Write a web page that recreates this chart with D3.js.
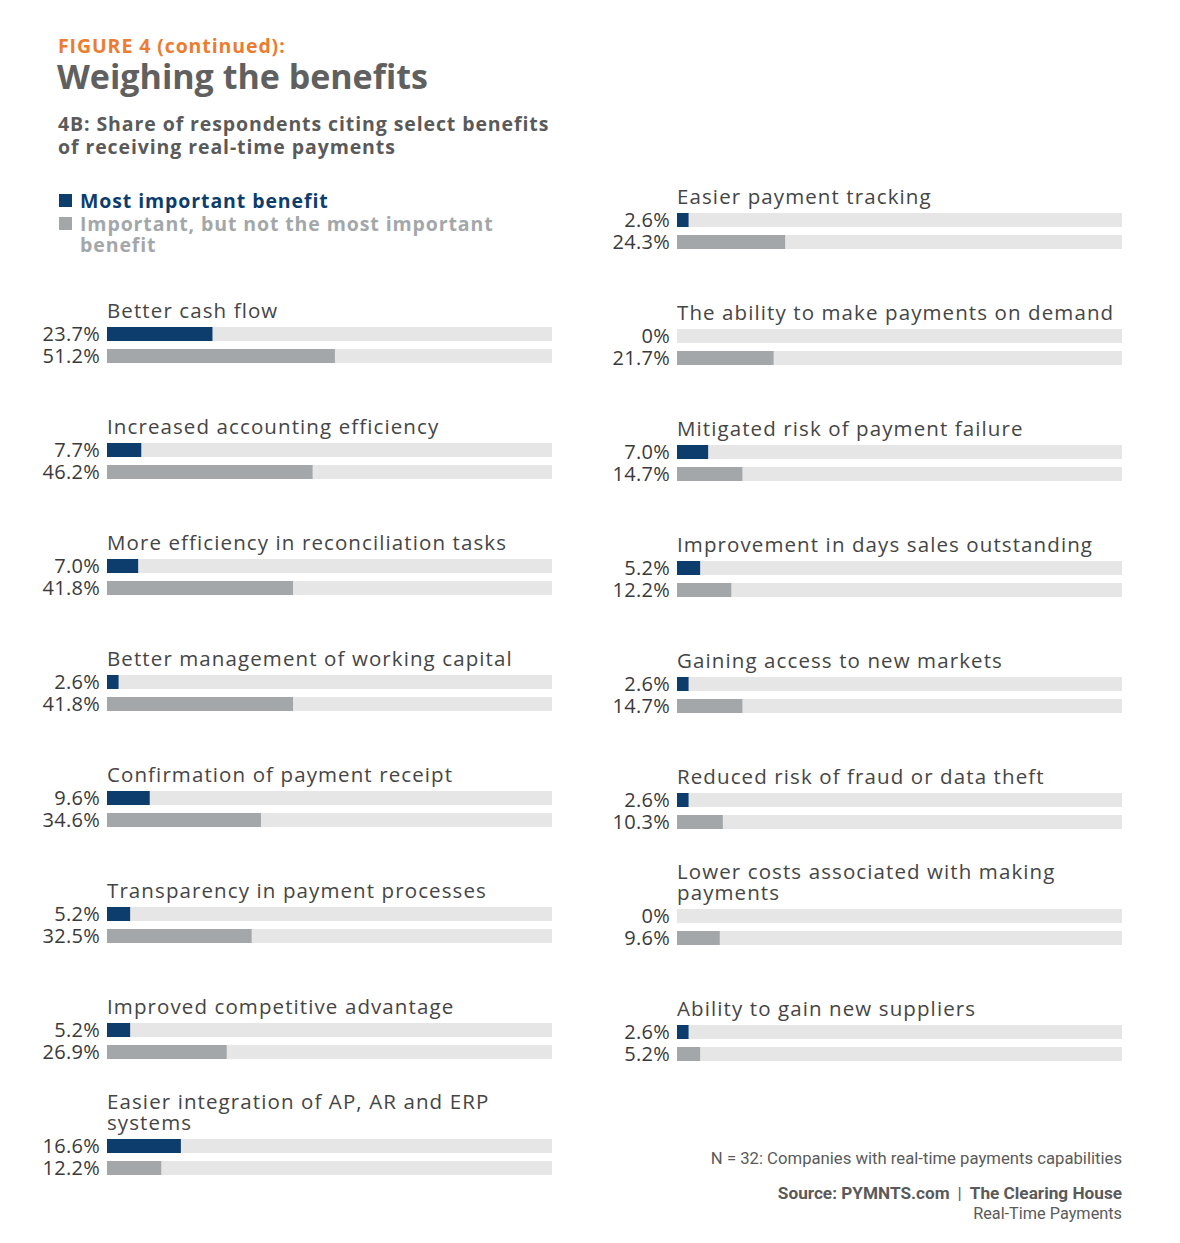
<!DOCTYPE html>
<html>
<head>
<meta charset="utf-8">
<script src="https://cdn.jsdelivr.net/npm/d3@7"></script>
<style>
  body { margin: 0; background: #fff; }
  svg { display: block; }
</style>
</head>
<body>
<div id="root"></div>
<script>
// left column
const leftCategories = [
  'Better cash flow',
  'Increased accounting efficiency',
  'More efficiency in reconciliation tasks',
  'Better management of working capital',
  'Confirmation of payment receipt',
  'Transparency in payment processes',
  'Improved competitive advantage',
  'Easier integration of AP, AR and ERP systems'
]
const leftMost = [23.7, 7.7, 7.0, 2.6, 9.6, 5.2, 5.2, 16.6]
const leftImportant = [51.2, 46.2, 41.8, 41.8, 34.6, 32.5, 26.9, 12.2]

// right column
const rightCategories = [
  'Easier payment tracking',
  'The ability to make payments on demand',
  'Mitigated risk of payment failure',
  'Improvement in days sales outstanding',
  'Gaining access to new markets',
  'Reduced risk of fraud or data theft',
  'Lower costs associated with making payments',
  'Ability to gain new suppliers'
]
const rightMost = [2.6, 0, 7.0, 5.2, 2.6, 2.6, 0, 2.6]
const rightImportant = [24.3, 21.7, 14.7, 12.2, 14.7, 10.3, 9.6, 5.2]

const seriesNames = ['Most important benefit', 'Important, but not the most important benefit']

const graph = {
  width: 1180,
  height: 1243,
  barW: 445,
  barH: 14,
  gap: 8
}
const colors = { most: '#0d3d6d', important: '#a3a7aa', track: '#e6e6e6' }

const svg = d3.select('#root')
  .append('svg')
  .attr('width', graph.width)
  .attr('height', graph.height)

// header
svg.append('text')
  .attr('x', 58).attr('y', 53)
  .attr('font-family', 'Open Sans').attr('font-weight', 700)
  .attr('font-size', 19.5).attr('letter-spacing', 0.9).attr('fill', '#ec7c30')
  .text('FIGURE 4 (continued):')

svg.append('text')
  .attr('x', 57).attr('y', 89)
  .attr('font-family', 'Open Sans').attr('font-weight', 700)
  .attr('font-size', 34).attr('fill', '#606060')
  .text('Weighing the benefits')

const sub = svg.append('text')
  .attr('font-family', 'Open Sans').attr('font-weight', 700)
  .attr('font-size', 19.5).attr('letter-spacing', 0.9).attr('fill', '#5a5a5a')
sub.append('tspan').attr('x', 58).attr('y', 131).text('4B: Share of respondents citing select benefits')
sub.append('tspan').attr('x', 58).attr('y', 154).text('of receiving real-time payments')

// legend
const legend = svg.append('g')
legend.append('rect').attr('x', 59).attr('y', 194).attr('width', 13).attr('height', 13).attr('fill', colors.most)
legend.append('text')
  .attr('x', 80).attr('y', 208)
  .attr('font-family', 'Open Sans').attr('font-weight', 700)
  .attr('font-size', 19.5).attr('letter-spacing', 0.9).attr('fill', colors.most)
  .text(seriesNames[0])
legend.append('rect').attr('x', 59).attr('y', 217).attr('width', 13).attr('height', 13).attr('fill', colors.important)
const lg2 = legend.append('text')
  .attr('font-family', 'Open Sans').attr('font-weight', 700)
  .attr('font-size', 19.5).attr('letter-spacing', 0.9).attr('fill', colors.important)
lg2.append('tspan').attr('x', 80).attr('y', 231).text('Important, but not the most important')
lg2.append('tspan').attr('x', 80).attr('y', 252).text('benefit')

function drawColumn(x0, y0, categories, most, important) {
  const x = d3.scaleLinear().domain([0, 100]).range([x0, x0 + graph.barW])
  const y = d3.scaleLinear().domain([0, 1]).range([y0, y0 + 116])

  const g = svg.append('g')
  const groups = g.selectAll('g.group')
    .data(categories.map((c, i) => ({ name: c, most: most[i], important: important[i], i })))
    .join('g')
    .attr('class', 'group')
    .attr('transform', d => `translate(0, ${y(d.i)})`)

  // category label, wrapped to the bar width, last line sits above the bars
  groups.each(function (d) {
    const grp = d3.select(this)
    const t = grp.append('text')
      .attr('font-family', 'Open Sans').attr('font-size', 20.5)
      .attr('letter-spacing', 1.1).attr('fill', '#454545')
    const words = d.name.split(' ')
    const lines = []
    let line = []
    const probe = t.append('tspan')
    for (const w of words) {
      line.push(w)
      probe.text(line.join(' '))
      if (probe.node().getComputedTextLength() > graph.barW && line.length > 1) {
        line.pop()
        lines.push(line.join(' '))
        line = [w]
      }
    }
    lines.push(line.join(' '))
    probe.remove()
    lines.forEach((l, k) => {
      t.append('tspan')
        .attr('x', x0)
        .attr('y', -9 - (lines.length - 1 - k) * 21)
        .text(l)
    })
  })

  const rows = [
    { key: 'most', dy: 0, color: colors.most },
    { key: 'important', dy: graph.barH + graph.gap, color: colors.important }
  ]

  rows.forEach(r => {
    groups.append('rect')
      .attr('x', x(0)).attr('y', r.dy)
      .attr('width', x(100) - x(0)).attr('height', graph.barH)
      .attr('fill', colors.track)
    groups.append('rect')
      .attr('x', x(0)).attr('y', r.dy)
      .attr('width', d => x(d[r.key]) - x(0)).attr('height', graph.barH)
      .attr('fill', r.color)
    groups.append('text')
      .attr('x', x0 - 7).attr('y', r.dy + graph.barH / 2)
      .attr('dy', '0.36em')
      .attr('text-anchor', 'end')
      .attr('font-family', 'Open Sans').attr('font-size', 20)
      .attr('letter-spacing', 0.3)
      .attr('fill', '#3a3a3a')
      .text(d => d[r.key] === 0 ? '0%' : d3.format('.1f')(d[r.key]) + '%')
  })
}

drawColumn(107, 327, leftCategories, leftMost, leftImportant)
drawColumn(677, 213, rightCategories, rightMost, rightImportant)

// footer
svg.append('text')
  .attr('x', 1122).attr('y', 1164).attr('text-anchor', 'end')
  .attr('font-family', 'Roboto').attr('font-size', 16.7).attr('fill', '#5a5a5a')
  .text('N = 32: Companies with real-time payments capabilities')
const src = svg.append('text')
  .attr('x', 1122).attr('y', 1199).attr('text-anchor', 'end')
  .attr('font-family', 'Roboto').attr('font-weight', 700)
  .attr('font-size', 17.2).attr('fill', '#5a5a5a')
src.append('tspan').text('Source: PYMNTS.com')
src.append('tspan').attr('font-weight', 400).attr('dx', 8).text('|')
src.append('tspan').attr('dx', 8).text('The Clearing House')
svg.append('text')
  .attr('x', 1122).attr('y', 1219).attr('text-anchor', 'end')
  .attr('font-family', 'Roboto').attr('font-size', 16.3).attr('fill', '#5a5a5a')
  .text('Real-Time Payments')
</script>
</body>
</html>
